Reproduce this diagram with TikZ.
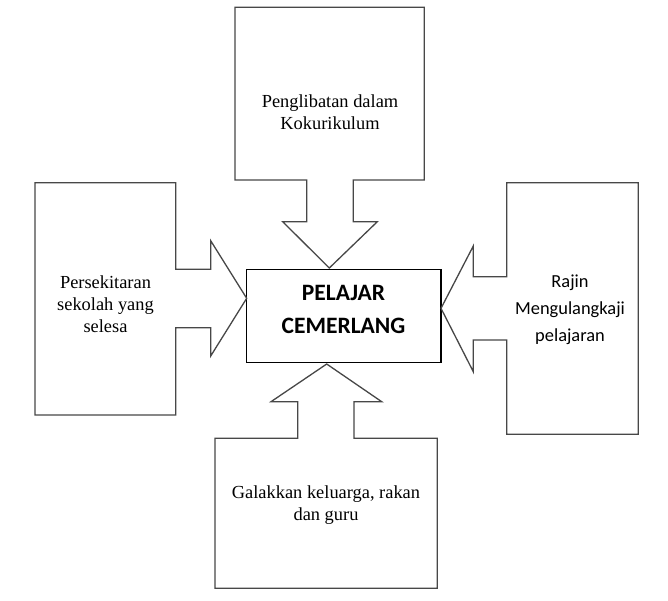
\documentclass[tikz,border=0pt]{standalone}
\usepackage{fontspec}
\setmainfont{Liberation Serif}
\newfontfamily\calfont{Carlito}
\begin{document}
\begin{tikzpicture}[x=1pt,y=-1pt,
  callout/.style={draw=black!72,line width=1.3pt,line join=miter},
  serifText/.style={align=center,inner sep=0pt,font=\fontsize{18.4}{22}\selectfont},
  calText/.style={align=center,inner sep=0pt,font=\calfont\fontsize{18.4}{27}\selectfont},
  mainbox/.style={draw=black,line width=1.2pt,minimum width=194.3pt,minimum height=93.4pt,inner sep=0pt},
  mainText/.style={align=center,inner sep=0pt,font=\calfont\bfseries\fontsize{23.5}{33}\selectfont}]
\useasboundingbox (0,0) rectangle (668,600);
% center box
\node[mainbox] (main) at (343.85,316) {};
\node[mainText] (mainLabel) at (343.5,309.5) {PELAJAR\\CEMERLANG};
% top callout
\draw[callout] (235,7.3) -- (424.3,7.3) -- (424.3,180) -- (353.3,180) -- (353.3,221.7)
  -- (377.3,221.7) -- (329.3,268) -- (282.7,221.7) -- (306.7,221.7) -- (306.7,180)
  -- (235,180) -- cycle;
\node[serifText] (top) at (330,112) {Penglibatan dalam\\Kokurikulum};
% left callout
\draw[callout] (35,182.7) -- (175.7,182.7) -- (175.7,269.3) -- (210.7,269.3) -- (210.7,240.7)
  -- (246.7,298.3) -- (210.7,356) -- (210.7,327.7) -- (175.7,327.7) -- (175.7,415)
  -- (35,415) -- cycle;
\node[serifText] (left) at (105.5,304) {Persekitaran\\sekolah yang\\selesa};
% right callout
\draw[callout] (506.7,182.7) -- (638.3,182.7) -- (638.3,434.3) -- (506.7,434.3) -- (506.7,340)
  -- (473.3,340) -- (473.3,371.7) -- (441,308.3) -- (473.3,246) -- (473.3,276.7)
  -- (506.7,276.7) -- cycle;
\node[calText] (right) at (570,310) {Rajin\\Mengulangkaji\\pelajaran};
% bottom callout
\draw[callout] (215,438.3) -- (297.7,438.3) -- (297.7,401.7) -- (271,401.7) -- (326.7,364)
  -- (381.7,401.7) -- (354,401.7) -- (354,438.3) -- (437.3,438.3) -- (437.3,588.3)
  -- (215,588.3) -- cycle;
\node[serifText] (bottom) at (326,505) {Galakkan keluarga, rakan\\dan guru};
\end{tikzpicture}
\end{document}
